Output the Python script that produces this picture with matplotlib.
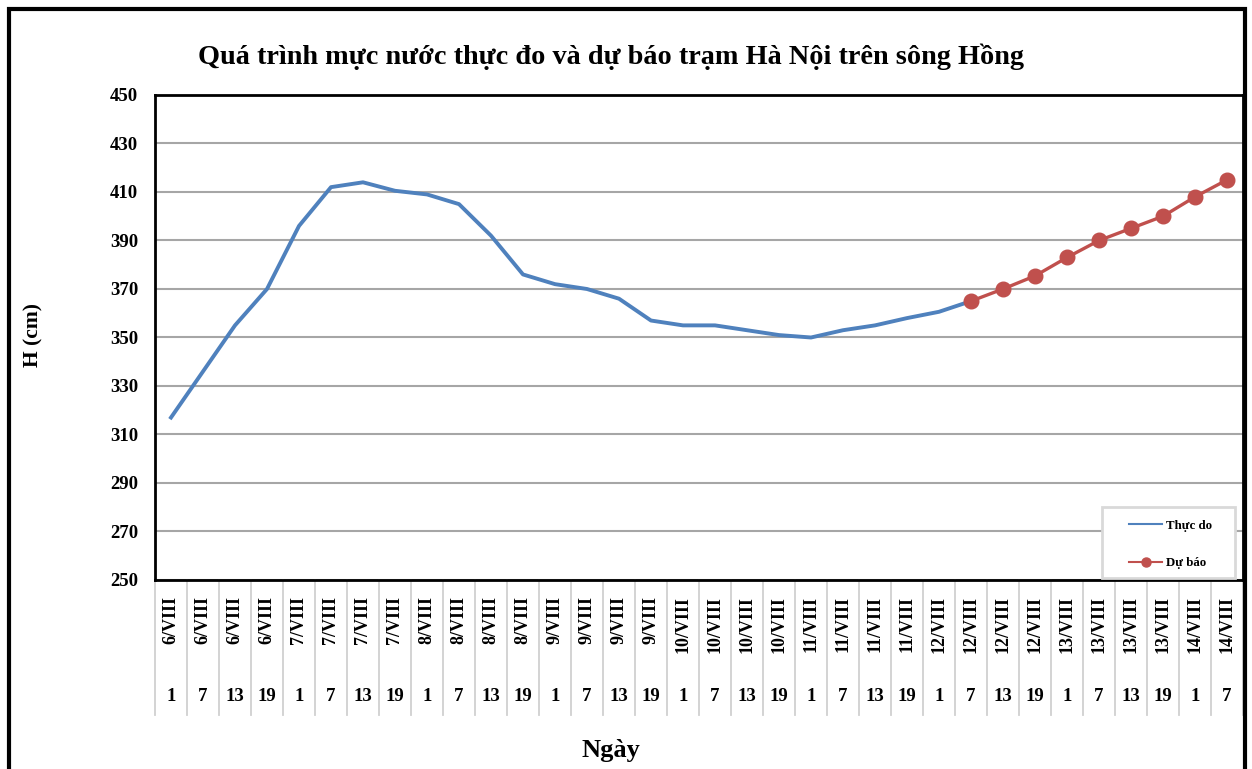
import matplotlib
matplotlib.use("Agg")
import matplotlib.pyplot as plt
from matplotlib.lines import Line2D
from matplotlib.patches import Rectangle
import matplotlib.transforms as mtransforms

plt.rcParams['font.family'] = ['Liberation Serif', 'DejaVu Serif']
plt.rcParams['font.weight'] = 'bold'

days = ["6/VIII"] * 4 + ["7/VIII"] * 4 + ["8/VIII"] * 4 + ["9/VIII"] * 4 + \
       ["10/VIII"] * 4 + ["11/VIII"] * 4 + ["12/VIII"] * 4 + ["13/VIII"] * 4 + ["14/VIII"] * 2
hours = ["1", "7", "13", "19"] * 8 + ["1", "7"]

observed = [317, 336, 355, 370, 396, 412, 414, 410.5, 409, 405, 392, 376,
            372, 370, 366, 357, 355, 355, 353, 351, 350, 353, 355, 358, 360.6, 365]
forecast_idx = list(range(25, 34))
forecast = [365, 370, 375.4, 383, 390, 395, 400, 408, 415]

W, H = 1252, 769
fig = plt.figure(figsize=(W / 100, H / 100), dpi=100)
ax = fig.add_axes([155 / W, 1 - 580 / H, (1243 - 155) / W, (580 - 95) / H])

x_obs = list(range(len(observed)))
ax.plot(x_obs, observed, color='#4F81BD', lw=2.8, solid_joinstyle='round', zorder=3)
ax.plot(forecast_idx, forecast, color='#C0504D', lw=2.4, marker='o', ms=10.5,
        zorder=4)

ax.set_xlim(-0.5, len(days) - 0.5)
ax.set_ylim(250, 450)
ax.set_yticks(range(250, 451, 20))
ax.tick_params(axis='y', length=0, pad=12, labelsize=13.5)
for lbl in ax.get_yticklabels():
    lbl.set_fontweight('bold')
ax.set_xticks([])
ax.grid(axis='y', color='#a6a6a6', lw=1.5)
ax.set_axisbelow(True)
for s in ax.spines.values():
    s.set_linewidth(2)
    s.set_color('black')

# category table below the axis
trans = mtransforms.blended_transform_factory(ax.transData, ax.transAxes)
for k in range(len(days) + 1):
    ax.plot([k - 0.5, k - 0.5], [0, -0.278], transform=trans, color='#d0d0d0',
            lw=1.3, clip_on=False, zorder=1)
for i, (d, h) in enumerate(zip(days, hours)):
    ax.text(i, -0.033, d, transform=trans, rotation=90, ha='center', va='top',
            fontsize=13, fontweight='bold')
    ax.text(i, -0.241, h, transform=trans, ha='center', va='center',
            fontsize=13.5, fontweight='bold')

# texts
fig.text(611 / W, 1 - 57 / H, "Quá trình mực nước thực đo và dự báo trạm Hà Nội trên sông Hồng",
         ha='center', va='center', fontsize=20.3, fontweight='bold')
fig.text(33 / W, 1 - 335 / H, "H (cm)", rotation=90, ha='center', va='center',
         fontsize=15.5, fontweight='bold')
fig.text(611 / W, 1 - 750 / H, "Ngày", ha='center', va='center',
         fontsize=19, fontweight='bold')

# legend
ax.add_patch(Rectangle((1102 / W, 1 - 578 / H), (1235 - 1102) / W, (578 - 507) / H,
                       transform=fig.transFigure, fill=True, fc='white',
                       ec='#d9d9d9', lw=2, zorder=6, clip_on=False))
handles = [Line2D([], [], color='#4F81BD', lw=1.5),
           Line2D([], [], color='#C0504D', lw=1.5, marker='o', ms=6.5)]
leg = ax.legend(handles, ["Thực do", "Dự báo"], loc='center',
                bbox_to_anchor=((1106 + 1235) / 2 / W, 1 - (511 + 578) / 2 / H),
                bbox_transform=fig.transFigure,
                prop={'weight': 'bold', 'size': 9.3}, handlelength=2.6,
                labelspacing=1.95, borderpad=0, handletextpad=0.3,
                frameon=False, borderaxespad=0)
leg.set_zorder(7)

# outer frame
fig.add_artist(Rectangle((9 / W, -0.05), (1245 - 9) / W, 1 - 9 / H + 0.05,
                         transform=fig.transFigure, fill=False, ec='black', lw=3))

fig.savefig("out.png", dpi=100)
